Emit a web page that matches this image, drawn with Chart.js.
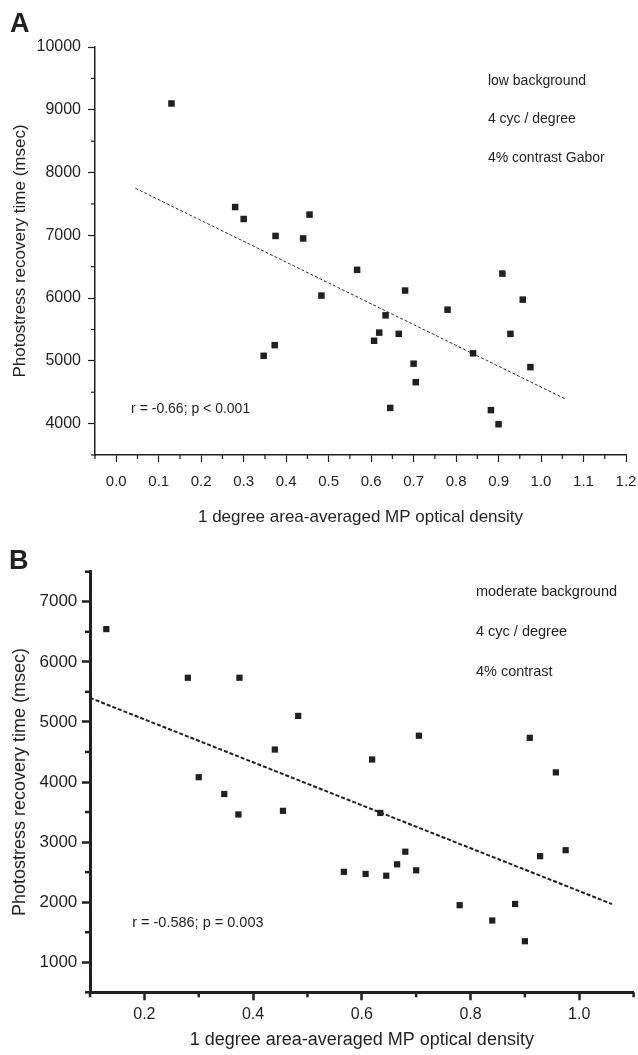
<!DOCTYPE html>
<html>
<head>
<meta charset="utf-8">
<title>Photostress recovery time vs MP optical density</title>
<script src="https://cdn.jsdelivr.net/npm/chart.js@4.4.1/dist/chart.umd.min.js"></script>
<style>
  html, body { margin: 0; padding: 0; background: #ffffff; }
  #wrap { position: relative; width: 638px; height: 1055px; overflow: hidden; background: #ffffff; }
  #wrap canvas { position: absolute; left: 0; }
  #panelA { top: 0; }
  #panelB { top: 540px; }
</style>
</head>
<body>
<div id="wrap">
  <canvas id="panelA" width="638" height="540"></canvas>
  <canvas id="panelB" width="638" height="515"></canvas>
</div>
<script>
// 1 degree area-averaged macular pigment optical density, one value per subject
const mpod = [0.13, 0.28, 0.30, 0.347, 0.373, 0.375, 0.44, 0.455, 0.483, 0.567,
              0.607, 0.619, 0.634, 0.645, 0.665, 0.68, 0.70, 0.705, 0.78, 0.84,
              0.882, 0.90, 0.909, 0.928, 0.957, 0.975];

// Photostress recovery time (msec), low background condition
const recoveryLow = [9100, 7450, 7260, 5080, 5250, 6990, 6950, 7330, 6040, 6450,
                     5320, 5450, 5725, 4250, 5430, 6120, 4955, 4660, 5815, 5120,
                     4215, 3990, 6390, 5430, 5975, 4900];

// Photostress recovery time (msec), moderate background condition
const recoveryModerate = [6545, 5735, 4080, 3800, 3460, 5735, 4540, 3520, 5100, 2505,
                          2470, 4375, 3485, 2440, 2630, 2840, 2530, 4770, 1950, 1695,
                          1970, 1350, 4735, 2765, 4160, 2865];

// Regression lines (end points)
const fitLowX = [0.045, 1.058];
const fitLowY = [7750, 4390];
const fitModerateX = [0.1, 1.06];
const fitModerateY = [5400, 1970];

// Axis ticks
const xTicksA = [0.0, 0.1, 0.2, 0.3, 0.4, 0.5, 0.6, 0.7, 0.8, 0.9, 1.0, 1.1, 1.2];
const xMinorA = [-0.05, 0.05, 0.15, 0.25, 0.35, 0.45, 0.55, 0.65, 0.75, 0.85, 0.95, 1.05, 1.15];
const yTicksA = [4000, 5000, 6000, 7000, 8000, 9000, 10000];
const yMinorA = [3500, 4500, 5500, 6500, 7500, 8500, 9500];
const xTicksB = [0.2, 0.4, 0.6, 0.8, 1.0];
const xMinorB = [0.1, 0.3, 0.5, 0.7, 0.9, 1.1];
const yTicksB = [1000, 2000, 3000, 4000, 5000, 6000, 7000];
const yMinorB = [500, 1500, 2500, 3500, 4500, 5500, 6500, 7500];

// Panel annotations
const notesA = ['low background', '4 cyc / degree', '4% contrast Gabor'];
const notesB = ['moderate background', '4 cyc / degree', '4% contrast'];
const statA = 'r = -0.66; p < 0.001';
const statB = 'r = -0.586; p = 0.003';
const xTitle = '1 degree area-averaged MP optical density';
const yTitle = 'Photostress recovery time (msec)';

const INK = '#231f20';
const FONT = "'Liberation Sans', Arial, Helvetica, sans-serif";
Chart.defaults.font.family = FONT;
Chart.defaults.color = INK;

function points(xs, ys) {
  return xs.map((x, i) => ({ x: x, y: ys[i] }));
}

// Short unlabeled tick marks between the labelled ones
const minorTicks = {
  id: 'minorTicks',
  afterDraw(chart, args, o) {
    const ctx = chart.ctx;
    const { x, y } = chart.scales;
    const area = chart.chartArea;
    ctx.save();
    ctx.strokeStyle = INK;
    ctx.lineWidth = o.width;
    ctx.lineCap = 'butt';
    o.xValues.forEach(v => {
      const px = x.getPixelForValue(v);
      ctx.beginPath();
      ctx.moveTo(px, area.bottom);
      ctx.lineTo(px, area.bottom + o.length);
      ctx.stroke();
    });
    o.yValues.forEach(v => {
      const py = y.getPixelForValue(v);
      ctx.beginPath();
      ctx.moveTo(area.left, py);
      ctx.lineTo(area.left - o.length, py);
      ctx.stroke();
    });
    ctx.restore();
  }
};

// Panel letter and text notes placed in data space
const panelNotes = {
  id: 'panelNotes',
  afterDraw(chart, args, o) {
    const ctx = chart.ctx;
    const { x, y } = chart.scales;
    ctx.save();
    ctx.fillStyle = INK;
    ctx.textAlign = 'left';
    ctx.textBaseline = 'alphabetic';
    ctx.font = 'bold ' + o.letterSize + 'px ' + FONT;
    ctx.fillText(o.letter, o.letterX, o.letterY);
    ctx.textBaseline = 'middle';
    o.items.forEach(it => {
      ctx.font = it.size + 'px ' + FONT;
      ctx.fillText(it.text, x.getPixelForValue(it.x), y.getPixelForValue(it.y));
    });
    ctx.restore();
  }
};

function makePanel(canvas, p) {
  return new Chart(canvas, {
    type: 'scatter',
    data: {
      datasets: [
        {
          data: points(mpod, p.values),
          pointStyle: 'rect',
          pointRadius: p.markerR,
          pointHoverRadius: p.markerR,
          backgroundColor: INK,
          borderWidth: 0,
          clip: false
        },
        {
          data: points(p.fitX, p.fitY),
          showLine: true,
          pointRadius: 0,
          borderColor: p.fitColor,
          borderWidth: p.fitWidth,
          borderDash: p.fitDash,
          fill: false,
          clip: false
        }
      ]
    },
    options: {
      responsive: false,
      animation: false,
      events: [],
      layout: { padding: { top: p.padTop, right: p.padRight, left: 0, bottom: 0 } },
      plugins: {
        legend: { display: false },
        tooltip: { enabled: false },
        minorTicks: { xValues: p.xMinor, yValues: p.yMinor, length: p.minorLen, width: p.tickWidth },
        panelNotes: {
          letter: p.letter, letterX: p.letterX, letterY: p.letterY, letterSize: 27,
          items: p.notes
        }
      },
      scales: {
        x: {
          type: 'linear',
          min: p.xMin,
          max: p.xMax,
          afterBuildTicks: s => { s.ticks = p.xTicks.map(v => ({ value: v })); },
          afterFit: s => { s.height = p.xAxisH; s.paddingLeft = 0; s.paddingRight = 0; },
          ticks: {
            callback: v => Number(v).toFixed(1),
            font: { size: p.xTickSize },
            color: INK,
            padding: p.xTickPad,
            maxRotation: 0,
            autoSkip: false
          },
          grid: {
            display: true, drawOnChartArea: false, drawTicks: true,
            tickLength: p.majorLen, tickWidth: p.tickWidth, tickColor: INK
          },
          border: { display: true, color: INK, width: p.axisWidth },
          title: {
            display: true, text: xTitle, color: INK,
            font: { size: p.titleSize }, padding: { top: 0, bottom: p.xTitlePad }
          }
        },
        y: {
          type: 'linear',
          min: p.yMin,
          max: p.yMax,
          afterBuildTicks: s => { s.ticks = p.yTicks.map(v => ({ value: v })); },
          afterFit: s => { s.width = p.yAxisW; s.paddingTop = 0; s.paddingBottom = 0; },
          ticks: {
            callback: v => String(v),
            font: { size: p.yTickSize },
            color: INK,
            padding: p.yTickPad,
            autoSkip: false
          },
          grid: {
            display: true, drawOnChartArea: false, drawTicks: true,
            tickLength: p.majorLen, tickWidth: p.tickWidth, tickColor: INK
          },
          border: { display: true, color: INK, width: p.axisWidth },
          title: {
            display: true, text: yTitle, color: INK,
            font: { size: p.titleSize }, padding: { top: p.yTitlePad, bottom: 0 }
          }
        }
      }
    },
    plugins: [minorTicks, panelNotes]
  });
}

// A: low background
makePanel(document.getElementById('panelA'), {
  values: recoveryLow,
  fitX: fitLowX, fitY: fitLowY,
  fitColor: '#333333', fitWidth: 1, fitDash: [3, 2],
  markerR: 4.6,
  xMin: -0.05, xMax: 1.2, yMin: 3500, yMax: 10000,
  xTicks: xTicksA, xMinor: xMinorA, yTicks: yTicksA, yMinor: yMinorA,
  padTop: 47, padRight: 12, yAxisW: 95, xAxisH: 85,
  majorLen: 7, minorLen: 4, tickWidth: 1.2, axisWidth: 1.5,
  xTickSize: 15, yTickSize: 16, titleSize: 17,
  xTickPad: 11, yTickPad: 7, xTitlePad: 12.8, yTitlePad: 9.8,
  letter: 'A', letterX: 10, letterY: 32,
  notes: [
    { text: notesA[0], x: 0.875, y: 9458, size: 14 },
    { text: notesA[1], x: 0.875, y: 8848, size: 14 },
    { text: notesA[2], x: 0.875, y: 8236, size: 14 },
    { text: statA, x: 0.035, y: 4233, size: 14 }
  ]
});

// B: moderate background
makePanel(document.getElementById('panelB'), {
  values: recoveryModerate,
  fitX: fitModerateX, fitY: fitModerateY,
  fitColor: INK, fitWidth: 2, fitDash: [4, 2],
  markerR: 4.4,
  xMin: 0.1, xMax: 1.1, yMin: 500, yMax: 7500,
  xTicks: xTicksB, xMinor: xMinorB, yTicks: yTicksB, yMinor: yMinorB,
  padTop: 31.7, padRight: 0, yAxisW: 90, xAxisH: 62.7,
  majorLen: 8, minorLen: 5, tickWidth: 2.5, axisWidth: 3,
  xTickSize: 16, yTickSize: 17, titleSize: 18,
  xTickPad: 5, yTickPad: 4.7, xTitlePad: 4.2, yTitlePad: 9.2,
  letter: 'B', letterX: 9, letterY: 29,
  notes: [
    { text: notesB[0], x: 0.81, y: 7155, size: 14.5 },
    { text: notesB[1], x: 0.81, y: 6489, size: 14.5 },
    { text: notesB[2], x: 0.81, y: 5823, size: 14.5 },
    { text: statB, x: 0.1775, y: 1649, size: 14.5 }
  ]
});
</script>
</body>
</html>
